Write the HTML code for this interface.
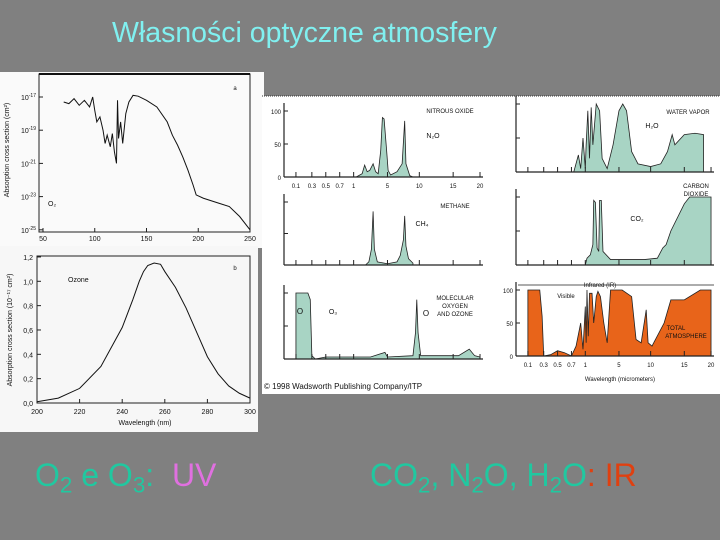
<!DOCTYPE html>
<html><head><meta charset="utf-8">
<style>
html,body{margin:0;padding:0;background:#808080;}
body{width:720px;height:540px;overflow:hidden;position:relative;font-family:"Liberation Sans",sans-serif;}
.t{position:absolute;white-space:nowrap;}
sub{font-size:0.7em;vertical-align:-0.3em;}
</style></head>
<body>
<div class="t" style="left:112px;top:17px;font-size:28.5px;color:#80f0f0;">Własności optyczne atmosfery</div>
<svg id="s" width="720" height="540" style="position:absolute;left:0;top:0"></svg>
<div class="t" style="left:35px;top:457px;font-size:32px;color:#20c8a0;">O<sub>2</sub> e O<sub>3</sub>:&nbsp; <span style="color:#e070e0">UV</span></div>
<div class="t" style="left:370px;top:457px;font-size:32px;color:#20c8a0;">CO<sub>2</sub>, N<sub>2</sub>O, H<sub>2</sub>O<span style="color:#e04010">: IR</span></div>
<script>
// ---- data ----
const irTickVals=[0.1,0.3,0.5,0.7,1,5,10,15,20];
const irTickLabels=["0.1","0.3","0.5","0.7","1","5","10","15","20"];
const o2Wave=[70,75,80,85,90,95,98,100,102,105,108,110,112,115,117,119,121,122,123,125,127,130,133,137,142,150,160,170,175,180,185,190,195,198,205,220,230,240,250];
const o2LogSigma=[-17.3,-17.4,-17.1,-17.5,-17.2,-17.6,-17.0,-17.8,-18.5,-18.2,-19.0,-19.8,-19.3,-20.0,-19.2,-20.3,-21.0,-17.2,-19.5,-18.5,-19.8,-18.0,-17.3,-16.9,-16.95,-17.2,-17.6,-18.5,-19.3,-19.9,-20.6,-21.4,-22.3,-22.9,-23.1,-23.4,-23.6,-24.2,-25.0];
const o2YTicks=[-17,-19,-21,-23,-25];
const o2XTicks=[50,100,150,200,250];
const ozWave=[200,210,220,230,240,245,248,250,252,255,258,260,265,270,275,280,285,290,295,300];
const ozSigma=[0.01,0.04,0.12,0.3,0.62,0.85,1.0,1.08,1.13,1.15,1.14,1.08,0.95,0.78,0.58,0.38,0.24,0.14,0.08,0.04];
const ozYTicks=[0,0.2,0.4,0.6,0.8,1.0,1.2];
const ozXTicks=[200,220,240,260,280,300];
const n2oW=[1.3,2.0,2.3,2.6,2.9,3.3,3.6,3.9,4.2,4.4,4.6,4.9,5.1,5.5,6.5,7.3,7.7,7.9,8.5,9];
const n2oA=[0,5,18,8,10,20,8,5,40,90,88,40,10,3,8,20,85,20,2,0];
const ch4W=[2.4,2.8,3.1,3.3,3.45,3.8,5,6.5,7.0,7.5,7.7,7.9,8.3,9.0];
const ch4A=[0,5,25,85,25,5,2,5,15,40,78,30,10,3];
const o3W=[0.1,0.25,0.28,0.3,0.35,0.5,1,3,4.7,5,9,9.4,9.6,9.8,10.2,16,18,19,20];
const o3A=[100,100,90,5,0,3,3,3,10,3,5,40,90,40,5,5,15,5,3];
const h2oW=[0.75,0.85,0.9,0.95,1.0,1.1,1.3,1.5,1.7,1.9,2.3,2.7,3.0,3.6,4.3,5.0,5.6,6.2,7.0,8,10,11.5,12.5,13.2,13.6,15,17,18.6];
const h2oA=[0,25,5,50,5,40,90,20,95,40,100,90,20,5,40,90,100,90,30,12,8,12,30,55,40,55,57,55];
const co2W=[1.0,1.2,1.6,1.9,2.0,2.2,2.4,2.6,2.7,2.9,3.1,4.0,9,11,11.8,12.3,13,15,16,20];
const co2A=[0,10,15,30,95,92,25,20,95,95,20,8,8,10,25,30,50,90,100,100];
const totW=[0.1,0.25,0.28,0.3,0.4,0.5,0.6,0.7,0.8,0.9,0.95,1.0,1.1,1.2,1.35,1.5,1.8,2.0,2.3,2.5,2.8,3.2,3.6,4.0,5.5,7.0,7.7,8.5,9.3,9.6,10.2,12,13,15,18,20];
const totA=[100,100,60,0,2,8,5,0,15,50,10,75,20,100,30,95,95,50,90,98,90,50,20,100,100,90,25,20,70,20,15,50,85,85,100,100];

const NS="http://www.w3.org/2000/svg";
const svg=document.getElementById('s');
function el(tag,attrs,parent){const e=document.createElementNS(NS,tag);for(const k in attrs)e.setAttribute(k,attrs[k]);(parent||svg).appendChild(e);return e;}
function txt(x,y,s,size,anchor,parent){const e=el('text',{x:x,y:y,'font-size':size,'text-anchor':anchor||'middle','font-family':'Liberation Sans, sans-serif',fill:'#111'},parent);e.textContent=s;return e;}

let r;
r=el('rect',{x:0,y:72,width:264,height:176,fill:'#fafafa'});

r=el('rect',{x:0,y:246,width:258,height:186,fill:'#f7f7f7'});

r=el('rect',{x:262,y:96,width:458,height:298,fill:'#ffffff'});

el('line',{x1:262,y1:96,x2:720,y2:96,stroke:'#333','stroke-width':1,'stroke-dasharray':'1 1'});

// ---- O2 log chart ----
const o2x=v=>43+(v-50)*1.035, o2y=v=>97+(-17-v)*16.6;
let g=el('g',{});

el('rect',{x:39,y:74,width:211,height:158,fill:'none',stroke:'#222','stroke-width':1},g);
el('line',{x1:39,y1:74,x2:250,y2:74,stroke:'#111','stroke-width':2},g);
o2YTicks.forEach(t=>{el('line',{x1:39,x2:43,y1:o2y(t),y2:o2y(t),stroke:'#222'},g);
  const tx=txt(36,o2y(t)+3,'10',7,'end',g);const sp=el('tspan',{dy:-3,'font-size':5},tx);sp.textContent=String(t);});
o2XTicks.forEach(t=>{el('line',{x1:o2x(t),x2:o2x(t),y1:232,y2:228,stroke:'#222'},g);txt(o2x(t),241,String(t),7,'middle',g);});
let p=el('polyline',{points:o2Wave.map((w,i)=>o2x(w)+','+o2y(o2LogSigma[i])).join(' '),fill:'none',stroke:'#111','stroke-width':1},g);

txt(48,206,'O₂',7,'start',g);txt(235,90,'a',6,'middle',g);
let yl=txt(0,0,'Absorption cross section (cm²)',7,'middle',g);yl.setAttribute('transform','translate(9,150) rotate(-90)');

// ---- Ozone chart ----
const ozx=v=>37+(v-200)*2.13, ozy=v=>403-v*121.7;
g=el('g',{});

el('rect',{x:37,y:256,width:213,height:147,fill:'none',stroke:'#222'},g);
ozYTicks.forEach(t=>{el('line',{x1:37,x2:41,y1:ozy(t),y2:ozy(t),stroke:'#222'},g);txt(33,ozy(t)+3,t.toFixed(1).replace('.',','),7,'end',g);});
ozXTicks.forEach(t=>{el('line',{x1:ozx(t),x2:ozx(t),y1:403,y2:399,stroke:'#222'},g);txt(ozx(t),414,String(t),7,'middle',g);});
p=el('polyline',{points:ozWave.map((w,i)=>ozx(w)+','+ozy(ozSigma[i])).join(' '),fill:'none',stroke:'#111','stroke-width':1},g);

txt(68,282,'Ozone',7,'start',g);txt(235,270,'b',6,'middle',g);txt(145,425,'Wavelength (nm)',7,'middle',g);
yl=txt(0,0,'Absorption cross section (10⁻¹⁷ cm²)',7,'middle',g);yl.setAttribute('transform','translate(12,330) rotate(-90)');

// ---- IR panels ----
const fr=[0.06,0.14,0.21,0.28,0.35,0.52,0.68,0.85,0.985];
function irFrac(v){for(let i=0;i<irTickVals.length-1;i++){if(v<=irTickVals[i+1]){const a=irTickVals[i],b=irTickVals[i+1];return fr[i]+(fr[i+1]-fr[i])*(v-a)/(b-a);}}return fr[fr.length-1];}
function panel(name,x0,x1,yb,y100,W,A,fill,labels,showTicks,ylabels){
  const gg=el('g',{});
  
  const X=v=>x0+(x1-x0)*irFrac(v), Y=v=>yb-(yb-y100)*v/100;
  const pts=[X(W[0])+','+yb].concat(W.map((w,i)=>X(w)+','+Y(A[i]))).concat([X(W[W.length-1])+','+yb]);
  const a=el('polygon',{points:pts.join(' '),fill:fill,stroke:'#222','stroke-width':0.8},gg);
  
  el('line',{x1:x0,y1:yb,x2:x1,y2:yb,stroke:'#222','stroke-width':1.2},gg);
  el('line',{x1:x0,y1:yb,x2:x0,y2:y100-8,stroke:'#222','stroke-width':1.2},gg);
  [0,50,100].forEach(t=>{el('line',{x1:x0,x2:x0+4,y1:Y(t),y2:Y(t),stroke:'#222'},gg);if(ylabels)txt(x0-3,Y(t)+3,String(t),6,'end',gg);});
  irTickVals.forEach((t,i)=>{el('line',{x1:X(t),x2:X(t),y1:yb,y2:yb-5,stroke:'#222'},gg);if(showTicks)txt(X(t),yb+11,irTickLabels[i],6,'middle',gg);});
  labels.forEach(l=>txt(l[0],l[1],l[2],l[3]||6,l[4]||'middle',gg));
  return gg;
}
panel('n2o-panel',284,483,177,111,n2oW,n2oA,'#a8d4c4',[[450,113,'NITROUS OXIDE'],[433,138,'N₂O',7]],true,true);
panel('ch4-panel',284,483,265,202,ch4W,ch4A,'#a8d4c4',[[455,208,'METHANE'],[422,226,'CH₄',7]],false,false);
panel('o2o3-panel',284,483,359,293,o3W,o3A,'#a8d4c4',[[455,300,'MOLECULAR'],[455,308,'OXYGEN'],[455,316,'AND OZONE'],[300,314,'O',8],[333,314,'O₃',7],[426,316,'O',8]],false,false);
panel('h2o-panel',516,714,172,104,h2oW,h2oA,'#a8d4c4',[[688,114,'WATER VAPOR'],[652,128,'H₂O',7]],false,false);
panel('co2-panel',516,714,265,197,co2W,co2A,'#a8d4c4',[[696,188,'CARBON'],[696,196,'DIOXIDE'],[637,221,'CO₂',7]],false,false);
panel('total-atmosphere-panel',516,714,356,290,totW,totA,'#e8641a',[[676,330,'TOTAL'],[686,338,'ATMOSPHERE'],[566,298,'Visible'],[620,381,'Wavelength (micrometers)'],[600,287,'Infrared (IR)']],true,true);
el('line',{x1:518,y1:285,x2:714,y2:285,stroke:'#222','stroke-width':0.8});
txt(264,389,'© 1998 Wadsworth Publishing Company/ITP',8,'start');
</script>
</body></html>
